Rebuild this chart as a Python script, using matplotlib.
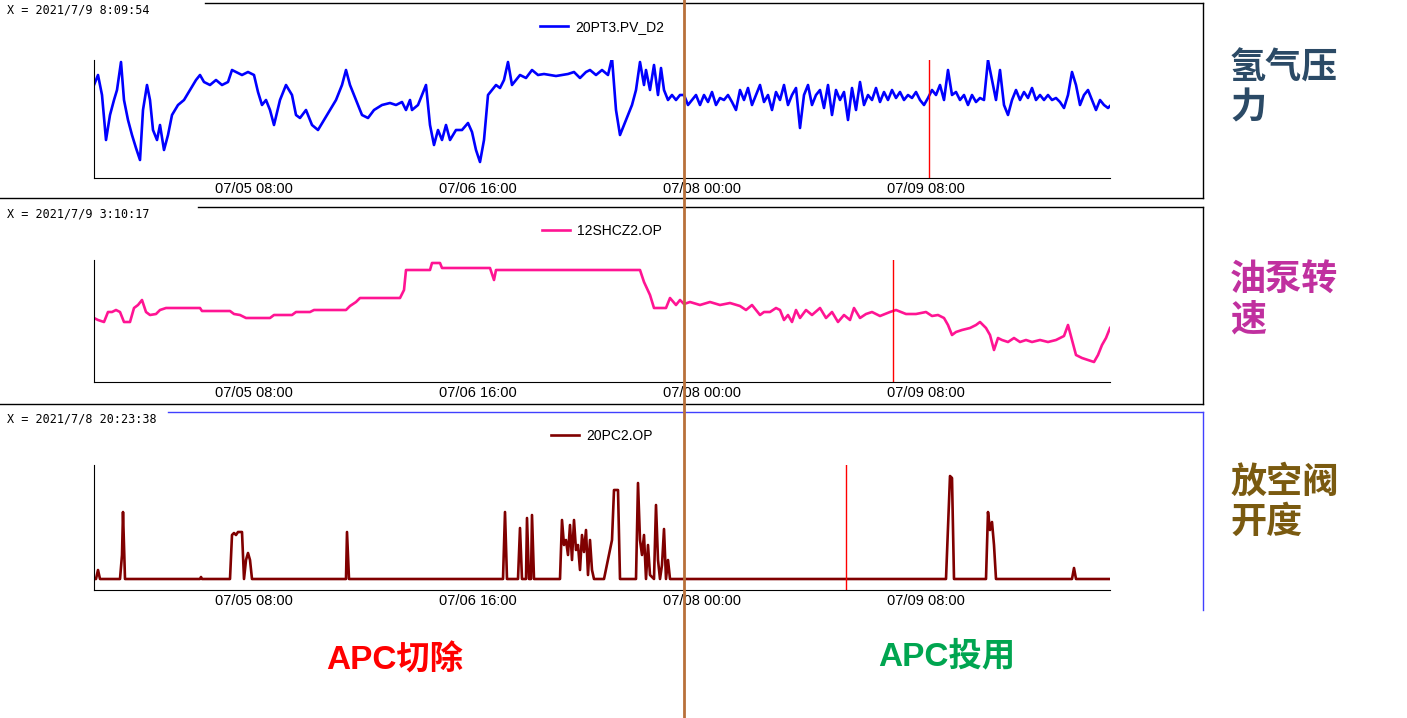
import numpy as np
import pandas as pd
import matplotlib
matplotlib.use("Agg")
import matplotlib.pyplot as plt
from matplotlib.lines import Line2D

W, H = 1407, 718
top_x = [94,98,102,106,110,114,117,121,124,128,132,136,140,143,147,150,153,157,160,164,168,172,178,184,190,196,200,204,210,216,222,228,232,236,242,248,254,258,262,266,270,274,280,286,292,296,300,306,312,318,324,330,336,342,346,350,356,362,368,374,382,390,396,402,406,410,412,418,422,426,430,434,438,442,446,450,456,462,468,472,476,480,484,488,492,496,500,504,508,512,516,520,526,532,538,544,550,556,562,568,574,580,586,590,596,602,608,612,616,620,624,628,632,636,640,644,646,650,654,658,661,664,668,672,676,680,684,688,692,696,700,704,708,712,716,720,724,728,732,736,740,744,748,752,756,760,764,768,772,776,780,784,788,792,796,800,804,808,812,816,820,824,828,832,836,840,844,848,852,856,860,864,868,872,876,880,884,888,892,896,900,904,908,912,916,920,924,928,932,936,940,944,948,952,956,960,964,968,972,976,980,984,988,992,996,1000,1004,1008,1012,1016,1020,1024,1028,1032,1036,1040,1044,1048,1052,1056,1060,1064,1068,1072,1076,1080,1084,1088,1092,1096,1100,1104,1108,1110]
top_y = [85,75,95,140,115,100,90,62,100,120,135,148,160,110,85,100,130,140,125,150,135,115,105,100,90,80,75,82,85,80,85,82,70,72,75,72,75,92,105,100,110,125,100,85,95,115,118,110,125,130,120,110,100,85,70,85,100,115,118,110,105,103,105,102,110,100,110,105,95,85,125,145,130,140,125,140,130,130,123,132,150,162,140,95,90,85,88,80,62,85,80,75,78,70,75,74,75,76,75,74,72,78,72,70,75,70,75,58,110,135,125,115,105,90,62,85,70,90,65,95,68,90,100,95,100,95,95,105,100,95,105,95,102,92,105,98,100,95,102,110,90,100,88,105,95,85,102,95,110,92,100,85,105,95,88,128,95,85,105,95,90,108,85,115,90,100,92,120,88,110,82,105,95,100,88,102,92,100,90,98,92,100,95,98,92,100,105,98,90,95,85,100,70,95,92,100,95,105,95,102,98,100,60,80,100,70,105,115,100,90,100,92,98,88,100,95,100,95,100,98,102,108,95,72,85,105,95,90,100,110,100,105,108,106]
mid_x = [94,98,104,108,112,116,120,124,130,134,138,142,146,150,156,160,166,200,202,230,234,240,246,270,274,292,296,310,314,346,350,356,360,400,404,406,430,432,440,442,490,494,496,640,644,650,654,666,670,676,680,684,690,700,710,720,730,740,746,752,760,764,770,776,780,784,788,792,796,800,806,812,820,826,832,838,844,850,854,860,866,872,880,890,896,906,916,926,932,938,944,948,952,956,962,970,976,980,986,990,994,998,1002,1008,1014,1020,1026,1032,1040,1048,1056,1064,1068,1072,1076,1082,1088,1094,1098,1102,1106,1110]
mid_y = [318,320,322,312,312,310,312,322,322,308,305,300,312,315,314,310,308,308,311,311,314,315,318,318,315,315,312,312,310,310,306,302,298,298,290,270,270,263,263,268,268,280,270,270,282,295,308,308,298,305,300,304,302,305,302,305,303,306,310,305,315,312,312,308,310,320,315,322,310,318,310,315,308,318,312,322,315,320,308,318,314,312,316,312,310,314,314,312,316,315,318,325,335,332,330,328,325,322,328,335,350,338,340,342,338,342,340,342,340,342,340,336,325,340,355,358,360,362,355,345,338,328]
bot_x = [94,96,98,100,120,122,123,125,200,201,202,230,232,234,236,238,242,244,246,248,250,252,346,347,349,503,505,507,518,520,522,526,527,529,531,532,534,560,562,564,566,568,570,572,574,576,578,580,582,584,586,588,590,592,594,604,612,614,618,620,636,638,640,642,644,646,648,650,654,656,658,660,662,664,666,668,670,946,950,952,954,986,988,990,992,994,996,1072,1074,1076,1110]
bot_y = [579,579,570,579,579,555,512,579,579,577,579,579,535,533,535,532,532,579,560,553,560,579,579,532,579,579,512,579,579,528,579,579,518,579,579,515,579,579,520,545,540,555,525,560,520,550,545,570,535,552,530,575,540,570,579,579,540,490,490,579,579,483,540,555,535,579,545,575,579,505,560,579,565,529,579,560,579,579,476,478,579,579,512,530,522,545,579,579,568,579,579]
tick_labels = ["07/05 08:00", "07/06 16:00", "07/08 00:00", "07/09 08:00"]
cursor_labels = ["X = 2021/7/9 8:09:54", "X = 2021/7/9 3:10:17", "X = 2021/7/8 20:23:38"]
cursor_px = [929, 893, 846]
series_names = ["20PT3.PV_D2", "12SHCZ2.OP", "20PC2.OP"]
side_titles = ["氢气压\n力", "油泵转\n速", "放空阀\n开度"]

T0 = pd.Timestamp("2021-07-05 08:00")
def tconv(px):
    return T0 + pd.to_timedelta(np.asarray(px, float) - 254, unit="h") / 7
ticks = [T0 + pd.Timedelta(hours=32 * i) for i in range(4)]

fig = plt.figure(figsize=(W / 100, H / 100), dpi=100)
cjk = "Noto Sans CJK SC"
mixed = ["Liberation Sans", cjk]

def fx(p): return p / W
def fy(p): return 1 - p / H

panels = [
    dict(x=top_x, y=top_y, c="#0000ff", top=60, bot=178, frame=(3, 198), fstart=205, fc="black", leg=1.28, tc="#2b4a66", ty=88),
    dict(x=mid_x, y=mid_y, c="#ff1493", top=260, bot=382, frame=(207, 404), fstart=198, fc="black", leg=1.24, tc="#c0309f", ty=300),
    dict(x=bot_x, y=bot_y, c="#800000", top=465, bot=590, frame=(412, 610), fstart=168, fc="#4040ff", leg=1.23, tc="#7a5a10", ty=502),
]
for i, p in enumerate(panels):
    ax = fig.add_axes([fx(94), fy(p["bot"]), fx(1110 - 94), (p["bot"] - p["top"]) / H])
    ax.plot(tconv(p["x"]), p["y"], color=p["c"], lw=1.9, label=series_names[i])
    ax.set_ylim(p["bot"], p["top"])
    ax.set_xlim(tconv(94), tconv(1110))
    ax.axvline(tconv(cursor_px[i]), color="red", lw=1)
    ax.set_xticks(ticks)
    ax.set_xticklabels(tick_labels, fontsize=10.5, family="Liberation Sans")
    ax.tick_params(axis="x", length=0, pad=3)
    ax.set_yticks([])
    for s in ["top", "right"]:
        ax.spines[s].set_visible(False)
    ax.legend(loc="center", bbox_to_anchor=(0.5, p["leg"]), frameon=False,
              prop={"family": "Liberation Sans", "size": 10}, handlelength=2, handletextpad=0.5)
    t, b = p["frame"]
    fig.add_artist(Line2D([fx(p["fstart"]), fx(1203)], [fy(t), fy(t)], color=p["fc"], lw=1))
    fig.add_artist(Line2D([fx(1203), fx(1203)], [fy(t), fy(b)], color=p["fc"], lw=1))
    if i < 2:
        fig.add_artist(Line2D([0, fx(1203)], [fy(b), fy(b)], color="black", lw=1))
    fig.text(fx(7), fy(t + 7), cursor_labels[i], fontsize=8.5, family="DejaVu Sans Mono", va="center")
    fig.text(fx(1230), fy(p["ty"]), side_titles[i], fontsize=26, family=cjk, fontweight="bold",
             color=p["tc"], va="center", ha="left", linespacing=1.1)

fig.add_artist(Line2D([fx(684), fx(684)], [0, 1], color="#b8703a", lw=2))
fig.text(fx(395), fy(660), "APC切除", fontsize=24, family=mixed, fontweight="bold", color="#ff0000", ha="center", va="center")
fig.text(fx(947), fy(657), "APC投用", fontsize=24, family=mixed, fontweight="bold", color="#00a550", ha="center", va="center")

fig.savefig("out.png", dpi=100)
